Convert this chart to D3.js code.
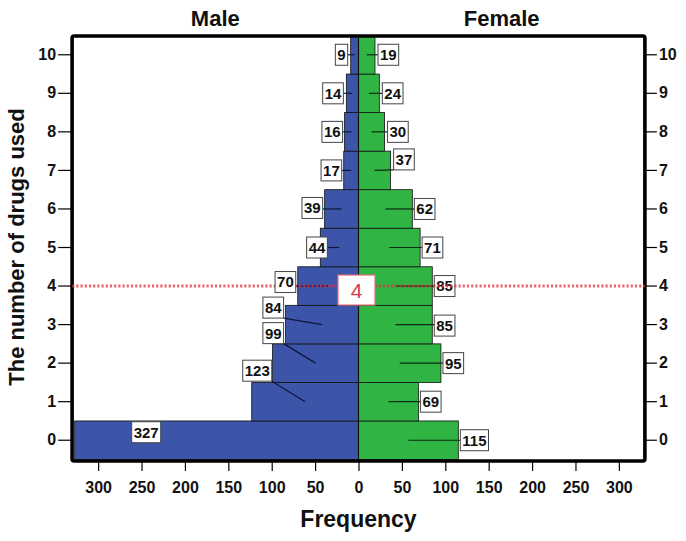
<!DOCTYPE html>
<html>
<head>
<meta charset="utf-8">
<script src="https://cdn.jsdelivr.net/npm/d3@7/dist/d3.min.js"></script>
<style>
  html, body { margin: 0; padding: 0; background: #fff; }
  svg { display: block; }
  text { font-family: Arial, "Liberation Sans", Helvetica, sans-serif; }
</style>
</head>
<body>
<svg id="chart" width="686" height="541"></svg>
<script>
// ---------------- data ----------------
const categories = [0, 1, 2, 3, 4, 5, 6, 7, 8, 9, 10];
const maleValues = [327, 123, 99, 84, 70, 44, 39, 17, 16, 14, 9];
const femaleValues = [115, 69, 95, 85, 85, 71, 62, 37, 30, 24, 19];
const xTickValues = [-300, -250, -200, -150, -100, -50, 0, 50, 100, 150, 200, 250, 300];
const groupNames = ["Male", "Female"];
const medianCategory = 4;
const xTitle = "Frequency";
const yTitle = "The number of drugs used";

// label placement nudges (pixels) relative to default spot beside bar end
const maleLabelNudge = [[88, -8], [22, -31], [13, -30], [0, -17], [0, -4], [9, 0], [0, -1], [0, 0], [0, 0], [-1, 0], [-1, 0]];
const femaleLabelNudge = [[0, 0], [0, 0], [0, 0], [0, 1], [0, 0], [0, 0], [0, 0], [1, -11], [1, 0], [1, 0], [1, 0]];

(function () {
// ---------------- setup ----------------
const svg = d3.select("#chart");
const blue = "#3d55a8", green = "#30b545";

const x = d3.scaleLinear().domain([-330, 330]).range([72.1, 644.9]);
const y = d3.scaleBand().domain(categories.slice().reverse()).range([35.5, 459.5]).padding(0);
const yc = c => y(c) + y.bandwidth() / 2;

const fLeft = x(-330), fRight = x(330), fTop = 36, fBottom = 461;

// bars
const rows = categories.map((c, i) => ({ c, m: maleValues[i], f: femaleValues[i], i }));
const gBars = svg.append("g");
gBars.selectAll("rect.m").data(rows).join("rect")
  .attr("class", "m")
  .attr("x", d => x(-d.m)).attr("y", d => y(d.c))
  .attr("width", d => x(0) - x(-d.m)).attr("height", y.bandwidth())
  .attr("fill", blue).attr("stroke", "#111").attr("stroke-width", 0.8);
gBars.selectAll("rect.f").data(rows).join("rect")
  .attr("class", "f")
  .attr("x", x(0)).attr("y", d => y(d.c))
  .attr("width", d => x(d.f) - x(0)).attr("height", y.bandwidth())
  .attr("fill", green).attr("stroke", "#111").attr("stroke-width", 0.8);
svg.append("line").attr("x1", x(0)).attr("x2", x(0)).attr("y1", fTop).attr("y2", fBottom)
  .attr("stroke", "#111").attr("stroke-width", 1.2);

// axes
function styleAxis(g) {
  g.select(".domain").remove();
  g.selectAll(".tick line").attr("stroke", "#000").attr("stroke-width", 1.2);
  g.selectAll(".tick text").attr("fill", "#111").attr("font-size", 16).attr("font-weight", "bold")
    .attr("font-family", 'Arial, "Liberation Sans", sans-serif');
}
svg.append("g").attr("transform", `translate(0,${fBottom})`)
  .call(d3.axisBottom(x).tickValues(xTickValues).tickFormat(d => Math.abs(d)).tickSize(10).tickPadding(11))
  .call(styleAxis);
svg.append("g").attr("transform", `translate(${fLeft},0)`)
  .call(d3.axisLeft(y).tickSize(14).tickPadding(2))
  .call(styleAxis);
svg.append("g").attr("transform", `translate(${fRight},0)`)
  .call(d3.axisRight(y).tickSize(12).tickPadding(2))
  .call(styleAxis);

// frame
svg.append("rect").attr("x", fLeft).attr("y", fTop).attr("width", fRight - fLeft).attr("height", fBottom - fTop)
  .attr("rx", 2).attr("fill", "none").attr("stroke", "#000").attr("stroke-width", 3.6);

// labels
const labelFont = 15, boxH = 21, padX = 2;
const measure = svg.append("text").attr("font-size", labelFont).attr("font-weight", "bold").attr("visibility", "hidden");
function textW(s) { measure.text(s); return measure.node().getComputedTextLength(); }

function labelSpec(side, d) {
  const v = side === "m" ? d.m : d.f;
  const w = textW(String(v)) + padX * 2;
  const end = side === "m" ? x(-v) : x(v);
  const nudge = side === "m" ? maleLabelNudge[d.i] : femaleLabelNudge[d.i];
  const cx = side === "m" ? end - 2 - w / 2 + nudge[0] : end + 2 + w / 2 + nudge[0];
  const cy = yc(d.c) + nudge[1];
  const tx = side === "m" ? x(-v / 2) : x(v / 2);
  const ty = yc(d.c);
  const bx0 = cx - w / 2, bx1 = cx + w / 2, by0 = cy - boxH / 2, by1 = cy + boxH / 2;
  const insideX = side === "m" ? cx > end : cx < end;
  const insideY = cy >= y(d.c) && cy <= y(d.c) + y.bandwidth();
  const lx = Math.max(bx0, Math.min(bx1, tx)), ly = Math.max(by0, Math.min(by1, ty));
  return { v, w, cx, cy, tx, ty, lx, ly, inside: insideX && insideY };
}

function drawLeaders(side) {
  const specs = rows.map(d => labelSpec(side, d));
  const g = svg.append("g");
  g.selectAll("line").data(specs.filter(s => !s.inside)).join("line")
    .attr("x1", s => s.lx).attr("y1", s => s.ly).attr("x2", s => s.tx).attr("y2", s => s.ty)
    .attr("stroke", side === "m" ? "#10163a" : "#0d2a10").attr("stroke-width", 1.2);
  return specs;
}
function drawBoxes(specs) {
  const g = svg.append("g");
  const lg = g.selectAll("g").data(specs).join("g");
  lg.append("rect").attr("x", s => s.cx - s.w / 2).attr("y", s => s.cy - boxH / 2)
    .attr("width", s => s.w).attr("height", boxH)
    .attr("fill", "#fff").attr("stroke", "#444").attr("stroke-width", 1);
  lg.append("text").attr("x", s => s.cx).attr("y", s => s.cy).attr("dy", "0.36em")
    .attr("text-anchor", "middle").attr("font-size", labelFont).attr("font-weight", "bold")
    .attr("fill", "#111").text(s => s.v);
}

const mSpecs = drawLeaders("m");
const fSpecs = drawLeaders("f");
drawBoxes(fSpecs);

// median reference line
svg.append("line").attr("x1", fLeft).attr("x2", fRight).attr("y1", yc(medianCategory)).attr("y2", yc(medianCategory))
  .attr("stroke", "#e2303f").attr("stroke-opacity", 0.75).attr("stroke-width", 3)
  .attr("stroke-dasharray", "2.2,2");

drawBoxes(mSpecs);

// median label box
const mg = svg.append("g").attr("transform", `translate(${x(0) - 2},${yc(medianCategory) + 4})`);
mg.append("rect").attr("x", -18.5).attr("y", -15).attr("width", 37).attr("height", 30)
  .attr("fill", "#fff").attr("stroke", "#e0707c").attr("stroke-width", 1.2);
mg.append("text").attr("text-anchor", "middle").attr("dy", "0.36em").attr("font-size", 21)
  .attr("fill", "#d63a4a").text(medianCategory);

// titles
svg.append("text").attr("x", (fLeft + x(0)) / 2).attr("y", 26).attr("text-anchor", "middle")
  .attr("font-size", 22).attr("font-weight", "bold").attr("fill", "#111").text(groupNames[0]);
svg.append("text").attr("x", (x(0) + fRight) / 2).attr("y", 26).attr("text-anchor", "middle")
  .attr("font-size", 22).attr("font-weight", "bold").attr("fill", "#111").text(groupNames[1]);
svg.append("text").attr("x", x(0)).attr("y", 527).attr("text-anchor", "middle")
  .attr("font-size", 23).attr("font-weight", "bold").attr("fill", "#111").text(xTitle);
svg.append("text").attr("transform", "translate(24,247) rotate(-90)").attr("text-anchor", "middle")
  .attr("font-size", 22).attr("font-weight", "bold").attr("fill", "#111").text(yTitle);
measure.remove();
})();
</script>
</body>
</html>
